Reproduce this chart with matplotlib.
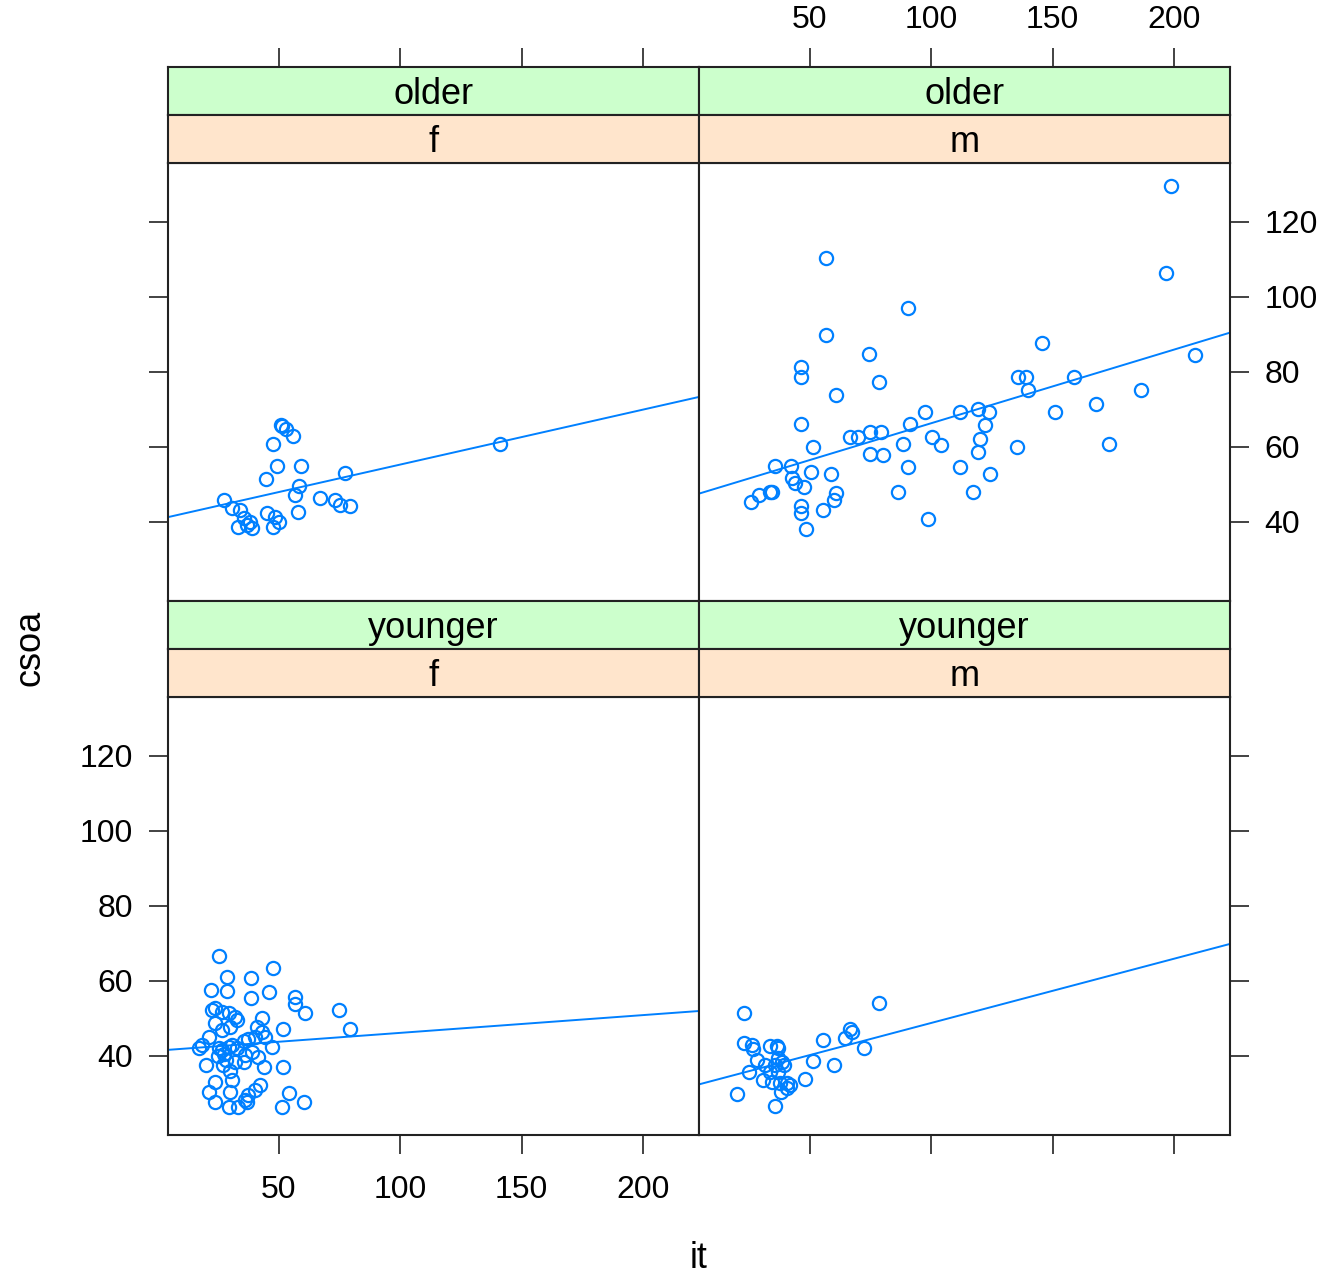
import matplotlib.pyplot as plt
import numpy as np

plt.rcParams['font.family'] = ['Liberation Sans', 'DejaVu Sans']

# it (x) and csoa (y) for each panel
older_f_it = [51.3, 50.9, 53.0, 56.1, 47.9, 49.3, 44.7, 59.3, 77.4, 58.2, 56.8, 27.7, 30.7, 34.2,
              67.1, 73.3, 75.4, 79.5, 45.1, 48.6, 50.0, 57.9, 33.5, 37.0, 39.0, 38.3, 47.9, 35.6, 141.3]
older_f_csoa = [65.6, 65.8, 64.7, 62.9, 60.8, 54.9, 51.4, 54.9, 53.1, 49.6, 47.2, 45.8, 43.6, 43.2,
                46.3, 45.8, 44.5, 44.2, 42.3, 41.4, 40.0, 42.7, 38.7, 39.2, 38.3, 40.0, 38.7, 41.0, 60.8]

older_m_it = [56.9, 90.4, 56.9, 74.3, 46.6, 46.6, 78.4, 61.0, 97.6, 112.0, 46.6, 91.4, 66.7, 70.1,
              74.8, 79.3, 100.3, 104.2, 51.6, 74.8, 80.3, 88.3, 35.6, 42.5, 50.7, 58.9, 90.4, 112.0,
              42.7, 44.1, 47.9, 33.8, 34.5, 29.0, 26.0, 86.4, 61.0, 59.9, 55.7, 46.6, 46.6, 48.5, 98.7,
              198.9, 196.8, 145.8, 208.8, 135.7, 138.9, 159.0, 139.8, 186.5, 119.2, 123.7, 150.8,
              167.9, 122.0, 120.2, 119.2, 135.4, 173.4, 124.3, 117.2]
older_m_csoa = [110.3, 97.1, 89.8, 84.7, 81.4, 78.6, 77.2, 73.8, 69.4, 69.4, 66.0, 66.1, 62.7, 62.6,
                64.0, 64.0, 62.7, 60.5, 60.0, 58.0, 57.8, 60.7, 54.9, 54.9, 53.4, 52.8, 54.7, 54.7,
                51.6, 50.4, 49.4, 48.0, 48.0, 47.2, 45.4, 48.0, 47.6, 45.8, 43.3, 44.3, 42.3, 38.1, 40.8,
                129.6, 106.4, 87.8, 84.5, 78.7, 78.7, 78.7, 75.2, 75.2, 70.0, 69.4, 69.4,
                71.4, 65.8, 62.0, 58.6, 60.0, 60.7, 52.8, 48.0]

younger_f_it = [25.6, 28.7, 38.7, 47.9, 22.3, 28.7, 38.7, 45.9, 56.8, 56.8, 61.0, 74.7, 79.5, 52.0, 43.1,
                22.5, 23.9, 26.6, 29.4, 32.1, 32.8, 23.9, 26.6, 30.1, 41.0, 43.1, 40.4, 44.5, 21.2, 18.4, 17.3,
                25.3, 26.6, 29.4, 30.7, 32.8, 35.6, 37.6, 27.5, 25.0, 28.5,
                47.2, 36.3, 39.0, 41.7, 20.1, 27.3, 32.1, 35.6, 43.8, 52.0, 30.0,
                23.9, 30.7, 42.4, 40.4, 37.6, 36.3, 21.2, 30.1, 54.1, 60.3, 51.3, 23.9, 29.4, 33.5, 36.9]
younger_f_csoa = [66.6, 61.1, 60.7, 63.5, 57.6, 57.4, 55.4, 57.0, 55.8, 53.8, 51.4, 52.2, 47.1, 47.1, 50.0,
                  52.2, 52.7, 51.8, 51.4, 50.4, 49.6, 48.7, 46.9, 47.8, 47.8, 46.5, 45.1, 45.1, 45.1, 42.9, 42.0,
                  42.1, 41.5, 42.5, 43.0, 42.0, 44.0, 44.5, 40.5, 40.0, 39.0,
                  42.4, 40.2, 41.1, 39.8, 37.6, 37.6, 38.4, 38.4, 37.1, 37.1, 36.0,
                  33.1, 33.6, 32.2, 30.9, 29.6, 28.2, 30.4, 30.3, 30.0, 27.8, 26.4, 27.8, 26.4, 26.4, 27.8]

younger_m_it = [23.2, 78.4, 23.2, 26.2, 26.9, 33.8, 36.5, 37.2, 28.3, 37.2, 38.6, 39.3, 35.9, 31.7,
                24.9, 33.8, 37.2, 31.0, 34.5, 37.9, 40.6, 42.0, 48.2, 51.6, 59.9, 55.7, 64.7, 66.7,
                67.4, 72.2, 20.1, 38.3, 40.6, 35.6]
younger_m_csoa = [51.5, 54.2, 43.4, 42.9, 41.8, 42.6, 42.6, 42.0, 38.9, 39.4, 38.4, 37.6, 37.6, 37.6,
                  35.8, 35.8, 35.8, 33.6, 33.1, 32.7, 32.7, 32.2, 33.8, 38.7, 37.6, 44.2, 44.9, 47.1,
                  46.5, 42.0, 29.8, 30.4, 31.4, 26.6]

x_ticks = [50, 100, 150, 200]
y_ticks = [40, 60, 80, 100, 120]
xlim = (4.5, 223)
ylim = (18.9, 135.7)

col = '#0080ff'
edge = '#222222'
W, H = 1324, 1281

fig = plt.figure(figsize=(W / 100, H / 100), dpi=100)


def box(x0, y0, x1, y1):
    # pixel box (top-left origin) -> figure fraction rect
    return [x0 / W, 1 - y1 / H, (x1 - x0) / W, (y1 - y0) / H]


def strip(x0, y0, x1, y1, text, color):
    a = fig.add_axes(box(x0, y0, x1, y1))
    a.set_facecolor(color)
    a.set_xlim(xlim)
    a.set_xticks([])
    a.set_yticks([])
    for s in a.spines.values():
        s.set_linewidth(1.5)
        s.set_color(edge)
    a.text(0.5, 0.42, text, ha='center', va='center', fontsize=26, transform=a.transAxes)
    return a


panels = [
    # x0, y0 (pixels), data, sex, age, x side, y side, show x labels, show y labels
    (168, 163, older_f_it, older_f_csoa, 'f', 'older', 'top', 'left', False, False),
    (699, 163, older_m_it, older_m_csoa, 'm', 'older', 'top', 'right', True, True),
    (168, 697, younger_f_it, younger_f_csoa, 'f', 'younger', 'bottom', 'left', True, True),
    (699, 697, younger_m_it, younger_m_csoa, 'm', 'younger', 'bottom', 'right', False, False),
]

tick_kw = dict(direction='out', length=14, width=1.2, labelsize=23, pad=11, color=edge)

for x0, y0, xs, ys, sex, age, xside, yside, xlab, ylab in panels:
    ax = fig.add_axes(box(x0, y0, x0 + 531, y0 + 438))
    ax.plot(xs, ys, 'o', mfc='none', mec=col, ms=9.5, mew=1.6)
    b, a0 = np.polyfit(xs, ys, 1)
    xx = np.array(xlim)
    ax.plot(xx, a0 + b * xx, color=col, lw=1.4)
    ax.set_xlim(xlim)
    ax.set_ylim(ylim)
    ax.set_xticks(x_ticks)
    ax.set_yticks(y_ticks)
    ax.tick_params(**tick_kw, top=False, labeltop=False,
                   bottom=(xside == 'bottom'), labelbottom=(xside == 'bottom' and xlab),
                   left=(yside == 'left'), right=(yside == 'right'),
                   labelleft=(yside == 'left' and ylab), labelright=(yside == 'right' and ylab))
    ax.tick_params(axis='x', pad=15)
    for s in ax.spines.values():
        s.set_linewidth(1.5)
        s.set_color(edge)
    top_strip = strip(x0, y0 - 96, x0 + 531, y0 - 48, age, '#ccffcc')
    strip(x0, y0 - 48, x0 + 531, y0, sex, '#ffe5cc')
    if xside == 'top':
        # x axis drawn above the strips, as lattice does
        top_strip.set_xticks(x_ticks)
        top_strip.tick_params(**tick_kw, top=True, bottom=False, labeltop=xlab, labelbottom=False)
        top_strip.tick_params(axis='x', pad=9)

fig.text(699 / W, 1 - 1258 / H, 'it', ha='center', va='center', fontsize=26)
fig.text(30 / W, 1 - 648 / H, 'csoa', ha='center', va='center', fontsize=26, rotation=90)

fig.savefig('out.png', dpi=100)
